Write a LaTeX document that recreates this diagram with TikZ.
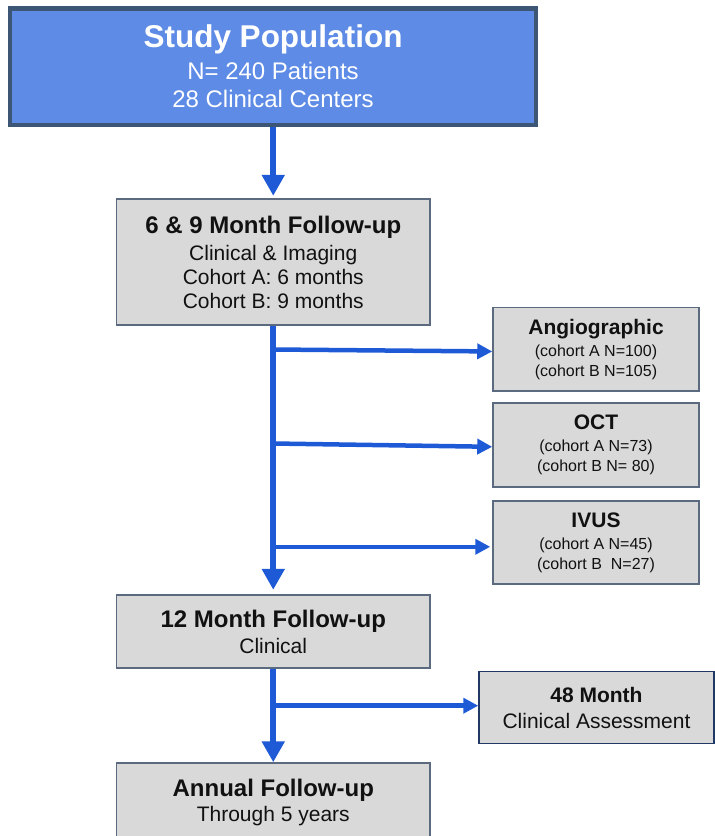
\documentclass[tikz,border=0pt]{standalone}
\usepackage{fontspec}
\setmainfont{Liberation Sans}
\usetikzlibrary{arrows.meta}
\definecolor{studyfill}{RGB}{93,139,230}
\definecolor{studyborder}{RGB}{62,86,118}
\definecolor{grayfill}{RGB}{217,217,217}
\definecolor{grayborder}{RGB}{92,106,128}
\definecolor{navyborder}{RGB}{31,56,100}
\definecolor{arrowblue}{RGB}{30,90,214}
\definecolor{txt}{RGB}{17,17,17}
\begin{document}
\begin{tikzpicture}[x=1pt,y=-1pt,
  graybox/.style={draw=grayborder, line width=1.5pt, fill=grayfill, inner sep=0pt, align=center, text=txt},
  mainarrow/.style={draw=arrowblue, line width=6pt, -{Triangle[length=21pt,width=22pt]}},
  brancharrow/.style={draw=arrowblue, line width=4.5pt, -{Triangle[length=15pt,width=15pt]}},
  bigfont/.style={font=\fontsize{21}{24}\selectfont},
  smallfont/.style={font=\fontsize{16}{20}\selectfont}]
\useasboundingbox (0,0) rectangle (715,836);

% boxes
\node[draw=studyborder, line width=4.5pt, fill=studyfill, inner sep=0pt, align=center, text=white,
      minimum width=526pt, minimum height=116.7pt, font=\fontsize{24}{28}\selectfont]
  (study) at (273,66.7)
  {{\fontsize{31.5}{31.5}\selectfont\bfseries Study Population}\\[4pt]N= 240 Patients\\28 Clinical Centers};

\node[graybox, bigfont, minimum width=313.5pt, minimum height=126pt] (p69) at (273.25,262)
  {{\fontsize{24}{24}\selectfont\bfseries 6 \& 9 Month Follow-up}\\[3pt]Clinical \& Imaging\\Cohort A: 6 months\\Cohort B: 9 months};

\node[graybox, smallfont, minimum width=206pt, minimum height=83.5pt] (angio) at (596,349.25)
  {{\fontsize{21}{21}\selectfont\bfseries Angiographic}\\[2pt](cohort A N=100)\\(cohort B N=105)};

\node[graybox, smallfont, minimum width=206pt, minimum height=84pt] (oct) at (596,445)
  {{\fontsize{21}{21}\selectfont\bfseries OCT}\\[2pt](cohort A N=73)\\(cohort B N= 80)};

\node[graybox, smallfont, minimum width=206pt, minimum height=83pt] (ivus) at (596,542.5)
  {{\fontsize{21}{21}\selectfont\bfseries IVUS}\\[2pt](cohort A N=45)\\(cohort B\ \ N=27)};

\node[graybox, bigfont, minimum width=313.5pt, minimum height=73pt] (m12) at (273.25,631.5)
  {{\fontsize{24}{24}\selectfont\bfseries 12 Month Follow-up}\\[2pt]Clinical};

\node[graybox, draw=navyborder, bigfont, minimum width=235pt, minimum height=72pt] (m48) at (596.5,707.5)
  {{\fontsize{21}{21}\selectfont\bfseries 48 Month}\\[2pt]Clinical Assessment};

\node[graybox, bigfont, minimum width=313.5pt, minimum height=78pt] (annual) at (273.25,802)
  {{\fontsize{24}{24}\selectfont\bfseries Annual Follow-up}\\[1pt]Through 5 years};

% branch points
\coordinate (y1) at (0,349.5);
\coordinate (y2) at (0,443.5);
\coordinate (y3) at (0,546.8);
\coordinate (y4) at (0,705.7);

% main arrows
\draw[mainarrow, shorten >=2.5pt] (study.south -| p69.north) -- (p69.north);
\draw[mainarrow, shorten >=4.5pt] (p69.south) -- (m12.north);
\draw[mainarrow] (m12.south) -- (annual.north);

% branches
\draw[brancharrow] (p69.south |- y1) -- ([yshift=-2.2pt]angio.west);
\draw[brancharrow] (p69.south |- y2) -- ([yshift=-1.8pt]oct.west);
\draw[brancharrow, shorten >=2pt] (p69.south |- y3) -- (ivus.west |- y3);
\draw[brancharrow] (m12.south |- y4) -- (m48.west |- y4);
\end{tikzpicture}
\end{document}
